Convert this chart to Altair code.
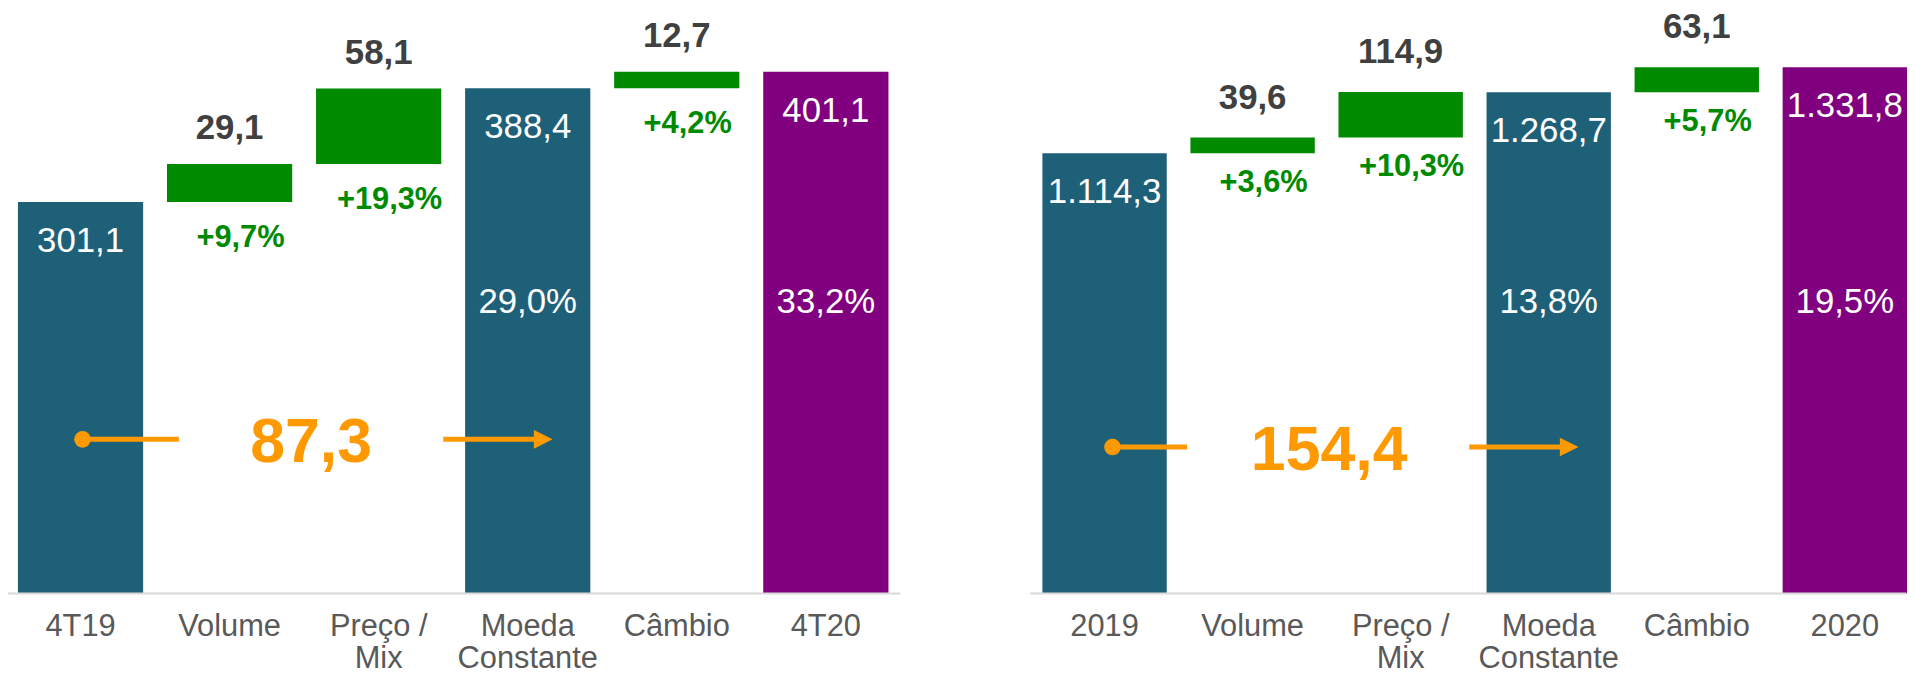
import altair as alt
import pandas as pd

FONT = "Liberation Sans"
TEAL = "#1F6079"
GREEN = "#008A00"
PURPLE = "#800080"
ORANGE = "#FF9900"
DARK = "#404040"
AXIS_TXT = "#595959"
AXIS_LINE = "#D9D9D9"

# ---------------- data ----------------
left_categories = ["4T19", "Volume", "Preço /\nMix", "Moeda\nConstante", "Câmbio", "4T20"]
left_kinds = ["start", "delta", "delta", "subtotal", "delta", "end"]
left_values = [301.1, 29.1, 58.1, 388.4, 12.7, 401.1]
left_delta_pct = ["", "+9,7%", "+19,3%", "", "+4,2%", ""]
left_total_pct = ["", "", "", "29,0%", "", "33,2%"]
left_growth = ["87,3"]

right_categories = ["2019", "Volume", "Preço /\nMix", "Moeda\nConstante", "Câmbio", "2020"]
right_kinds = ["start", "delta", "delta", "subtotal", "delta", "end"]
right_values = [1114.3, 39.6, 114.9, 1268.7, 63.1, 1331.8]
right_delta_pct = ["", "+3,6%", "+10,3%", "", "+5,7%", ""]
right_total_pct = ["", "", "", "13,8%", "", "19,5%"]
right_growth = ["154,4"]


def fmt_br(v):
    s = f"{v:,.1f}"
    return s.replace(",", "X").replace(".", ",").replace("X", ".")


def build_table(cats, kinds, vals, dpct, tpct):
    rows = []
    running = 0.0
    for c, k, v, dp, tp in zip(cats, kinds, vals, dpct, tpct):
        if k == "delta":
            lo, hi = running, running + v
            running = hi
        else:
            lo, hi = 0.0, v
            running = v
        rows.append(dict(cat=c, kind=k, lo=lo, hi=hi, label=fmt_br(v), dpct=dp, tpct=tp))
    return pd.DataFrame(rows)


def panel(cats, kinds, vals, dpct, tpct, growth, ymax, ann_y, pct_y, offs, view_w,
          pad_outer, align, rule_end):
    df = build_table(cats, kinds, vals, dpct, tpct)
    xscale = alt.Scale(domain=cats, paddingInner=0.16, paddingOuter=pad_outer, align=align)
    xaxis = alt.Axis(
        title=None, labelExpr="split(datum.label, '\\n')", labelAngle=0,
        labelFont=FONT, labelFontSize=31, labelColor=AXIS_TXT, labelPadding=18,
        labelLineHeight=33, ticks=False, tickSize=0, domain=False,
        grid=False, labelBaseline="top",
    )
    yscale = alt.Scale(domain=[0, ymax], nice=False, zero=True)

    def X(field):
        return alt.X(f"{field}:N", scale=xscale, axis=xaxis)

    base = alt.Chart(df)
    bars = base.mark_bar().encode(
        x=X("cat"),
        y=alt.Y("lo:Q", scale=yscale, axis=None),
        y2="hi:Q",
        color=alt.Color("kind:N", scale=alt.Scale(
            domain=["start", "delta", "subtotal", "end"],
            range=[TEAL, GREEN, TEAL, PURPLE]), legend=None),
    )
    delta_val = base.transform_filter("datum.kind == 'delta'").mark_text(
        font=FONT, fontSize=35, fontWeight="bold", color=DARK, dy=offs["val_dy"],
        baseline="alphabetic",
    ).encode(x=X("cat"), y=alt.Y("hi:Q", scale=yscale, axis=None), text="label:N")
    delta_pct = base.transform_filter("datum.kind == 'delta'").mark_text(
        font=FONT, fontSize=31, fontWeight="bold", color=GREEN, dy=offs["pct_dy"], dx=11,
        baseline="alphabetic",
    ).encode(x=X("cat"), y=alt.Y("lo:Q", scale=yscale, axis=None), text="dpct:N")
    tot_val = base.transform_filter("datum.kind != 'delta'").mark_text(
        font=FONT, fontSize=35, color="white", dy=50, baseline="alphabetic",
    ).encode(x=X("cat"), y=alt.Y("hi:Q", scale=yscale, axis=None), text="label:N")
    tot_pct = base.transform_filter("datum.tpct != ''").mark_text(
        font=FONT, fontSize=35, color="white", baseline="middle", dy=3,
    ).encode(x=X("cat"), y=alt.YDatum(pct_y, scale=yscale, axis=None), text="tpct:N")

    ann = pd.DataFrame({
        "a0": [cats[0]], "a1": [cats[1]], "a2": [cats[2]], "a3": [cats[3]],
        "a5": [cats[5]], "g": growth,
    })
    abase = alt.Chart(ann)
    baseline = abase.mark_rule(
        color=AXIS_LINE, strokeWidth=2, xOffset=-75, x2Offset=rule_end,
    ).encode(x=X("a0"), x2="a5:N", y=alt.YDatum(0, scale=yscale, axis=None))
    ypos = alt.YDatum(ann_y, scale=yscale, axis=None)
    dot = abase.mark_point(
        filled=True, shape="circle", size=280, color=ORANGE, opacity=1,
        xOffset=offs["dot"],
    ).encode(x=X("a0"), y=ypos)
    line1 = abase.mark_rule(
        color=ORANGE, strokeWidth=5, xOffset=offs["dot"], x2Offset=offs["l1end"],
    ).encode(x=X("a0"), x2="a1:N", y=ypos)
    gtext = abase.mark_text(
        font=FONT, fontSize=63, fontWeight="bold", color=ORANGE, baseline="middle",
        dy=4, xOffset=offs["text"],
    ).encode(x=X("a1"), y=ypos, text="g:N")
    line2 = abase.mark_rule(
        color=ORANGE, strokeWidth=5, xOffset=offs["l2start"], x2Offset=offs["tip"] - 9,
    ).encode(x=X("a2"), x2="a3:N", y=ypos)
    head = abase.mark_point(
        filled=True, shape="M-1,-1L1,0L-1,1Z", size=353, color=ORANGE, opacity=1,
        xOffset=offs["tip"] - 9.4,
    ).encode(x=X("a3"), y=ypos)

    return alt.layer(bars, baseline, delta_val, delta_pct, tot_val, tot_pct,
                     line1, line2, dot, head, gtext).properties(width=view_w, height=587)


left = panel(left_categories, left_kinds, left_values, left_delta_pct, left_total_pct,
             left_growth, 448.6, 118.5, 226,
             {"dot": 2, "l1end": -51, "text": 82, "l2start": 65, "tip": 25,
              "val_dy": -25, "pct_dy": 45},
             900, 0.08, 0.5, 75)
right = panel(right_categories, right_kinds, right_values, right_delta_pct, right_total_pct,
              right_growth, 1476.4, 370.5, 744,
              {"dot": 8, "l1end": -66, "text": 77, "l2start": 69, "tip": 30,
               "val_dy": -29, "pct_dy": 39},
              882, 0.04, 1, 62)

chart = alt.hconcat(left, right, spacing=128).properties(
    padding={"left": -3, "top": 0, "right": 0, "bottom": 0}
).configure_view(stroke=None)

chart.save("out.html", embed_options={"renderer": "svg", "actions": False})
